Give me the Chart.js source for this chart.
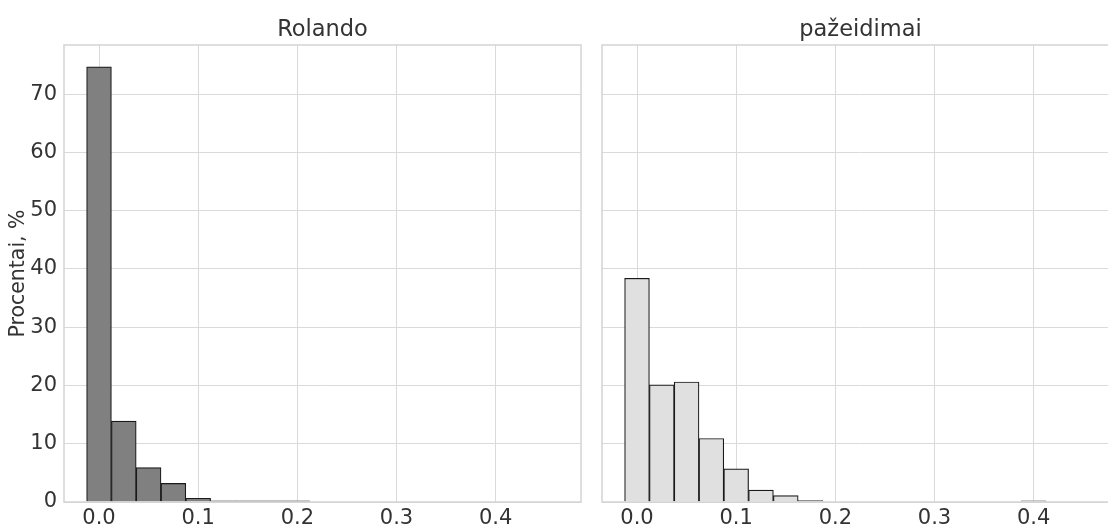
<!DOCTYPE html>
<html>
<head>
<meta charset="utf-8">
<script src="https://cdn.jsdelivr.net/npm/chart.js@4"></script>
<style>
  html, body { margin: 0; padding: 0; background: #fff; overflow: hidden; }
  #wrap { position: relative; width: 1108px; height: 525px; overflow: hidden; }
  canvas { position: absolute; top: 0; }
  #left { left: 0; }
  #right { left: 590px; }
</style>
</head>
<body>
<div id="wrap">
  <canvas id="left" width="600" height="525"></canvas>
  <canvas id="right" width="540" height="525"></canvas>
</div>
<script>
// bin centres (bin width 0.025)
const rolandoBins = [0, 0.025, 0.05, 0.075, 0.1, 0.125, 0.15, 0.175, 0.2];
const rolandoPct = [74.7, 13.9, 5.9, 3.2, 0.65, 0.18, 0.18, 0.18, 0.18];

const pazBins = [0, 0.025, 0.05, 0.075, 0.1, 0.125, 0.15, 0.175, 0.2,
                 0.225, 0.25, 0.275, 0.3, 0.325, 0.35, 0.375, 0.4];
const pazPct = [38.4, 20.1, 20.6, 10.9, 5.7, 2.05, 1.1, 0.23, 0,
                0, 0, 0, 0, 0, 0, 0, 0.2];

const xTicks = [0, 0.1, 0.2, 0.3, 0.4];
const yTicks = [0, 10, 20, 30, 40, 50, 60, 70];

const titles = ['Rolando', 'pažeidimai'];
const yLabel = 'Procentai, %';

const FONT = 'DejaVu Sans';
const TEXT = '#333333';
const GRID = '#dadada';

Chart.defaults.font.family = FONT;
Chart.defaults.color = TEXT;

// light frame round the plot area + panel title centred over it
const framePlugin = {
    id: 'frame',
    afterDraw(chart, args, opts) {
        const { ctx, chartArea: a } = chart;
        ctx.save();
        ctx.strokeStyle = '#d4d4d4';
        ctx.lineWidth = 1.5;
        ctx.strokeRect(a.left, a.top, a.right - a.left, a.bottom - a.top);
        ctx.fillStyle = TEXT;
        ctx.font = '22.5px "' + FONT + '"';
        ctx.textAlign = 'center';
        ctx.textBaseline = 'alphabetic';
        ctx.fillText(opts.text, (a.left + a.right) / 2, 36);
        ctx.restore();
    }
};

function makeHist(id, title, bins, vals, fill, showY) {
    const rightPad = showY ? 19 : 11;
    return new Chart(document.getElementById(id), {
        type: 'bar',
        data: {
            datasets: [{
                data: bins.map((b, i) => ({ x: b, y: vals[i] })),
                backgroundColor: fill,
                borderColor: '#1a1a1a',
                borderWidth: 1.2,
                borderSkipped: 'bottom',
                barPercentage: 1,
                categoryPercentage: 1
            }]
        },
        options: {
            responsive: false,
            devicePixelRatio: 1,
            animation: false,
            layout: { padding: { left: 0, right: rightPad, top: 45, bottom: 0 } },
            plugins: {
                legend: { display: false },
                tooltip: { enabled: false },
                title: { display: false },
                frame: { text: title }
            },
            scales: {
                x: {
                    type: 'linear',
                    min: -0.0353,
                    max: 0.486,
                    offset: false,
                    afterBuildTicks: s => { s.ticks = xTicks.map(v => ({ value: v })); },
                    afterFit: s => { s.height = 23; },
                    grid: { color: GRID, lineWidth: 1, drawTicks: false, offset: false },
                    border: { display: false },
                    ticks: {
                        padding: 4,
                        font: { size: 21 },
                        color: TEXT,
                        maxRotation: 0,
                        callback: v => v.toFixed(1)
                    }
                },
                y: {
                    min: 0,
                    max: 78.45,
                    afterBuildTicks: s => { s.ticks = yTicks.map(v => ({ value: v })); },
                    afterFit: s => { s.width = showY ? 64 : 12; },
                    grid: { color: GRID, lineWidth: 1, drawTicks: false },
                    border: { display: false },
                    ticks: {
                        display: showY,
                        padding: 7,
                        font: { size: 21 },
                        color: TEXT
                    },
                    title: {
                        display: showY,
                        text: yLabel,
                        color: TEXT,
                        font: { size: 20.5 },
                        padding: { top: 6, bottom: 0 }
                    }
                }
            }
        },
        plugins: [framePlugin]
    });
}

makeHist('left', titles[0], rolandoBins, rolandoPct, '#808080', true);
makeHist('right', titles[1], pazBins, pazPct, '#e0e0e0', false);
</script>
</body>
</html>
